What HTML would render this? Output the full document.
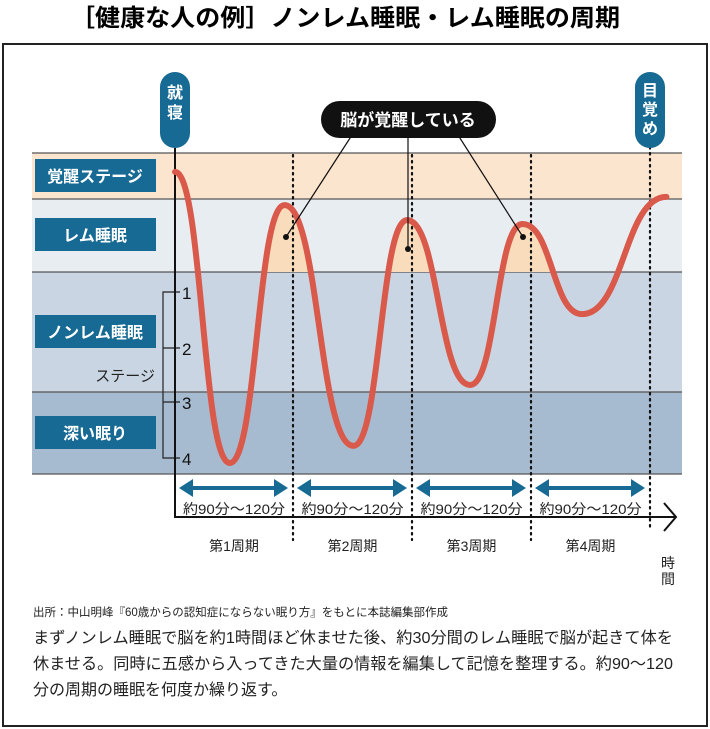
<!DOCTYPE html>
<html><head><meta charset="utf-8"><style>
html,body{margin:0;padding:0;background:#fff;}
svg{display:block;font-family:"Liberation Sans","Noto Sans CJK JP",sans-serif;}
</style></head><body>
<svg id="chart" width="710" height="729" viewBox="0 0 710 729">
<text x="345" y="26" text-anchor="middle" font-size="24" font-weight="bold" textLength="550" lengthAdjust="spacingAndGlyphs">［健康な人の例］ノンレム睡眠・レム睡眠の周期</text>
<rect x="3" y="44" width="704" height="682" fill="none" stroke="#222" stroke-width="2"/>
<g>
<rect x="32" y="153" width="650" height="46" fill="#fbe5cf"/>
<rect x="32" y="199" width="650" height="73" fill="#e8edf2"/>
<rect x="32" y="272" width="650" height="120" fill="#c9d5e2"/>
<rect x="32" y="392" width="650" height="82" fill="#a7bbd0"/>
<g stroke="#555" stroke-width="1.2">
<line x1="32" y1="153" x2="682" y2="153"/><line x1="32" y1="199" x2="682" y2="199"/>
<line x1="32" y1="272" x2="682" y2="272"/><line x1="32" y1="392" x2="682" y2="392"/>
<line x1="32" y1="474" x2="682" y2="474"/></g>
</g>
<g id="fills"></g>
<g stroke="#111" stroke-width="2.2" stroke-dasharray="1.5 4.5" stroke-linecap="round">
<line x1="293" y1="155" x2="293" y2="540"/><line x1="412" y1="155" x2="412" y2="540"/>
<line x1="531" y1="155" x2="531" y2="540"/><line x1="650" y1="147" x2="650" y2="530"/>
</g>
<g font-size="16" font-weight="bold" fill="#fff" text-anchor="middle">
<rect x="35" y="159" width="121" height="33" fill="#176a93"/><text x="95" y="182">覚醒ステージ</text>
<rect x="35" y="218" width="121" height="33" fill="#176a93"/><text x="95" y="241">レム睡眠</text>
<rect x="35" y="315" width="121" height="33" fill="#176a93"/><text x="95" y="338">ノンレム睡眠</text>
<rect x="35" y="416" width="121" height="33" fill="#176a93"/><text x="95" y="439">深い眠り</text>
</g>
<text x="155" y="381" text-anchor="end" font-size="15" fill="#222">ステージ</text>
<g stroke="#222" stroke-width="1.2" fill="none">
<path d="M180 292 H163 V458 H180 M163 348 H180 M163 402 H180"/>
</g>
<g font-size="17" fill="#111">
<text x="182" y="299">1</text><text x="182" y="355">2</text><text x="182" y="409">3</text><text x="182" y="465">4</text>
</g>
<path d="M175 148 V517 H675" fill="none" stroke="#111" stroke-width="2"/>
<path d="M664 503 L676 517 L664 531" fill="none" stroke="#111" stroke-width="2"/>
<path id="curve" fill="none" stroke="#d95a4a" stroke-width="6" stroke-linecap="round"/>
<g>
<rect x="160" y="72" width="30" height="76" rx="15" fill="#176a93"/>
<text x="175" y="98" text-anchor="middle" font-size="16" font-weight="bold" fill="#fff">就</text>
<text x="175" y="118" text-anchor="middle" font-size="16" font-weight="bold" fill="#fff">寝</text></g>
<g>
<rect x="635" y="72" width="30" height="76" rx="15" fill="#176a93"/>
<text x="650" y="96" text-anchor="middle" font-size="16" font-weight="bold" fill="#fff">目</text>
<text x="650" y="115" text-anchor="middle" font-size="16" font-weight="bold" fill="#fff">覚</text>
<text x="650" y="134" text-anchor="middle" font-size="16" font-weight="bold" fill="#fff">め</text></g>
<g>
<g stroke="#111" stroke-width="1.2"><line x1="352" y1="135" x2="286" y2="237"/><line x1="408" y1="135" x2="408" y2="249"/><line x1="458" y1="135" x2="523" y2="237"/></g>
<circle cx="286" cy="237" r="3" fill="#111"/><circle cx="408" cy="249" r="3" fill="#111"/><circle cx="523" cy="237" r="3" fill="#111"/>
<rect x="321" y="101" width="175" height="37" rx="18.5" fill="#111"/>
<text x="408" y="126" text-anchor="middle" font-size="17" font-weight="bold" fill="#fff">脳が覚醒している</text></g>
<g id="spans"></g>
<text x="668" y="568" text-anchor="middle" font-size="14" fill="#222">時</text>
<text x="668" y="584" text-anchor="middle" font-size="14" fill="#222">間</text>
<text x="33" y="616" font-size="11.5" fill="#222">出所：中山明峰『60歳からの認知症にならない眠り方』をもとに本誌編集部作成</text>
<g font-size="16" fill="#222">
<text x="33" y="643" textLength="640" lengthAdjust="spacingAndGlyphs">まずノンレム睡眠で脳を約1時間ほど休ませた後、約30分間のレム睡眠で脳が起きて体を</text>
<text x="33" y="669" textLength="640" lengthAdjust="spacingAndGlyphs">休ませる。同時に五感から入ってきた大量の情報を編集して記憶を整理する。約90〜120</text>
<text x="33" y="695">分の周期の睡眠を何度か繰り返す。</text></g>
</svg>
<script>
// time in minutes after bedtime, depth in stage units (1..4; <0 = REM/wake)
const timeMin = [0, 46, 92, 150, 195, 248, 292, 342, 413];
const depth = [-1.17, 4.09, -0.57, 3.78, -0.30, 2.68, -0.23, 1.40, -0.72];
const cycles = ["第1周期", "第2周期", "第3周期", "第4周期"];
const spanLabels = ["約90分〜120分", "約90分〜120分", "約90分〜120分", "約90分〜120分"];
const NS = "http://www.w3.org/2000/svg";
const xS = t => 175 + t * 1.19;
const yS = s => 292 + (s - 1) * 55.33;
function pathFrom(i0, i1) {
  let d = "M" + xS(timeMin[i0]) + " " + yS(depth[i0]);
  for (let i = i0; i < i1; i++) {
    const x0 = xS(timeMin[i]), y0 = yS(depth[i]), x1 = xS(timeMin[i + 1]), y1 = yS(depth[i + 1]);
    const dx = (x1 - x0) * 0.5;
    d += " C" + (x0 + dx) + " " + y0 + " " + (x1 - dx) + " " + y1 + " " + x1 + " " + y1;
  }
  return d;
}
document.getElementById("curve").setAttribute("d", pathFrom(0, timeMin.length - 1));
const fills = document.getElementById("fills");
const defs = document.createElementNS(NS, "defs");
defs.innerHTML = '<clipPath id="remclip"><rect x="175" y="199" width="' + (xS(timeMin[7]) - 175) + '" height="73"/></clipPath>';
fills.appendChild(defs);
for (let k = 1; k <= 5; k += 2) {
  const f = document.createElementNS(NS, "path");
  f.setAttribute("d", pathFrom(k, k + 2) + " L" + xS(timeMin[k + 2]) + " 272 L" + xS(timeMin[k]) + " 272 Z");
  f.setAttribute("fill", "#f9dcbc");
  f.setAttribute("clip-path", "url(#remclip)");
  
  
  fills.appendChild(f);
}
const spans = document.getElementById("spans");
const bounds = [175, 293, 412, 531, 650];
cycles.forEach((c, i) => {
  const a = bounds[i] + 4, b = bounds[i + 1] - 5, m = (bounds[i] + bounds[i + 1]) / 2;
  const g = document.createElementNS(NS, "g");
  
  
  g.innerHTML = '<line x1="' + (a + 10) + '" y1="488" x2="' + (b - 10) + '" y2="488" stroke="#176a93" stroke-width="4"/>' +
    '<path d="M' + a + ' 488 L' + (a + 14) + ' 479 L' + (a + 14) + ' 497 Z M' + b + ' 488 L' + (b - 14) + ' 479 L' + (b - 14) + ' 497 Z" fill="#176a93"/>' +
    '<text x="' + m + '" y="514" text-anchor="middle" font-size="14" fill="#222" textLength="102" lengthAdjust="spacingAndGlyphs">' + spanLabels[i] + '</text>' +
    '<text x="' + m + '" y="551" text-anchor="middle" font-size="14" fill="#222">' + c + '</text>';
  spans.appendChild(g);
});
</script>
</body></html>
